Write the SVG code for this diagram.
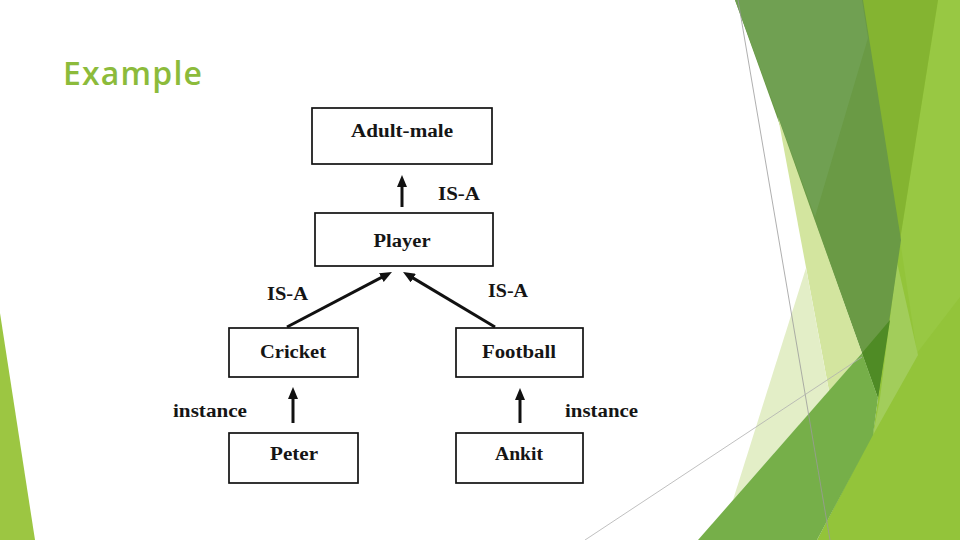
<svg xmlns="http://www.w3.org/2000/svg" width="960" height="540" viewBox="0 0 960 540">
<defs>
<style>
.box{fill:#fff;stroke:#111;stroke-width:1.7}
.lbl{font-family:"Liberation Serif","DejaVu Serif",serif;font-weight:bold;font-size:18px;fill:#151515}
.conn{stroke:#111;stroke-width:3;fill:none;marker-end:url(#ah)}
.title{font-family:"Open Sans","Liberation Sans",sans-serif;font-weight:600;font-size:32px;fill:#8cbb3b}
</style>
<marker id="ah" viewBox="0 0 12 10" refX="4" refY="5" markerWidth="12" markerHeight="10" markerUnits="userSpaceOnUse" orient="auto">
<path d="M0,0 L12,5 L0,10 z" fill="#111"/>
</marker>
</defs>
<rect width="960" height="540" fill="#fff"/>
<g id="background">
<polygon points="0,313 35,540 0,540" fill="#9cc642"/>
<polygon points="858,0 960,0 960,540 817,540 873,433 878,398" fill="#93c43a"/>
<polygon points="938,0 960,0 960,297 917,353 900,240" fill="#98c843"/>
<polygon points="897,262 918,355 873,435 880,398" fill="#a2cd5b"/>
<polygon points="860,0 938,0 900,240 890,240" fill="#84b431"/>
<polygon points="735,0 863,0 901,240 878,398" fill="#6a9a45"/>
<polygon points="735,0 862,0 868,38 815,217 783,130" fill="#70a052"/>
<polygon points="862,353 890,320 878,398" fill="#4f8b25"/>
<polygon points="778,117 862,353 829,391" fill="#d3e59f"/>
<polygon points="806,268 829,391 733,500" fill="#e3eec7"/>
<polygon points="698,540 862,353 878,398 873,435 817,540" fill="#76af49"/>
<line x1="738" y1="0" x2="830" y2="540" stroke="#9a9a9a" stroke-width="0.8"/>
<line x1="585" y1="540" x2="862" y2="357" stroke="#b0b0b0" stroke-width="0.8"/>
</g>
<text class="title" x="63" y="85" textLength="139">Example</text>
<g id="connectors">
<line class="conn" x1="402" y1="207" x2="402" y2="183"/>
<line class="conn" x1="287" y1="327" x2="384.9" y2="275.7"/>
<line class="conn" x1="495" y1="327" x2="409.9" y2="276.1"/>
<line class="conn" x1="293" y1="423" x2="293" y2="395"/>
<line class="conn" x1="520" y1="423" x2="520" y2="396"/>
<text class="lbl" x="438" y="200" textLength="42" lengthAdjust="spacingAndGlyphs">IS-A</text>
<text class="lbl" x="267" y="300" textLength="41" lengthAdjust="spacingAndGlyphs">IS-A</text>
<text class="lbl" x="488" y="297" textLength="40" lengthAdjust="spacingAndGlyphs">IS-A</text>
<text class="lbl" x="173" y="417" textLength="74" lengthAdjust="spacingAndGlyphs">instance</text>
<text class="lbl" x="565" y="417" textLength="73" lengthAdjust="spacingAndGlyphs">instance</text>
</g>
<g id="adult-male">
<rect class="box" x="312" y="108" width="180" height="56"/>
<text class="lbl" x="402" y="137" text-anchor="middle" textLength="102" lengthAdjust="spacingAndGlyphs">Adult-male</text>
</g>
<g id="player">
<rect class="box" x="315" y="213" width="178" height="53"/>
<text class="lbl" x="402" y="247" text-anchor="middle" textLength="57" lengthAdjust="spacingAndGlyphs">Player</text>
</g>
<g id="cricket">
<rect class="box" x="229" y="328" width="129" height="49"/>
<text class="lbl" x="293" y="358" text-anchor="middle" textLength="66" lengthAdjust="spacingAndGlyphs">Cricket</text>
</g>
<g id="football">
<rect class="box" x="456" y="328" width="127" height="49"/>
<text class="lbl" x="519" y="358" text-anchor="middle" textLength="74" lengthAdjust="spacingAndGlyphs">Football</text>
</g>
<g id="peter">
<rect class="box" x="229" y="433" width="129" height="50"/>
<text class="lbl" x="294" y="460" text-anchor="middle" textLength="48" lengthAdjust="spacingAndGlyphs">Peter</text>
</g>
<g id="ankit">
<rect class="box" x="456" y="433" width="127" height="50"/>
<text class="lbl" x="519" y="460" text-anchor="middle" textLength="48" lengthAdjust="spacingAndGlyphs">Ankit</text>
</g>
</svg>
